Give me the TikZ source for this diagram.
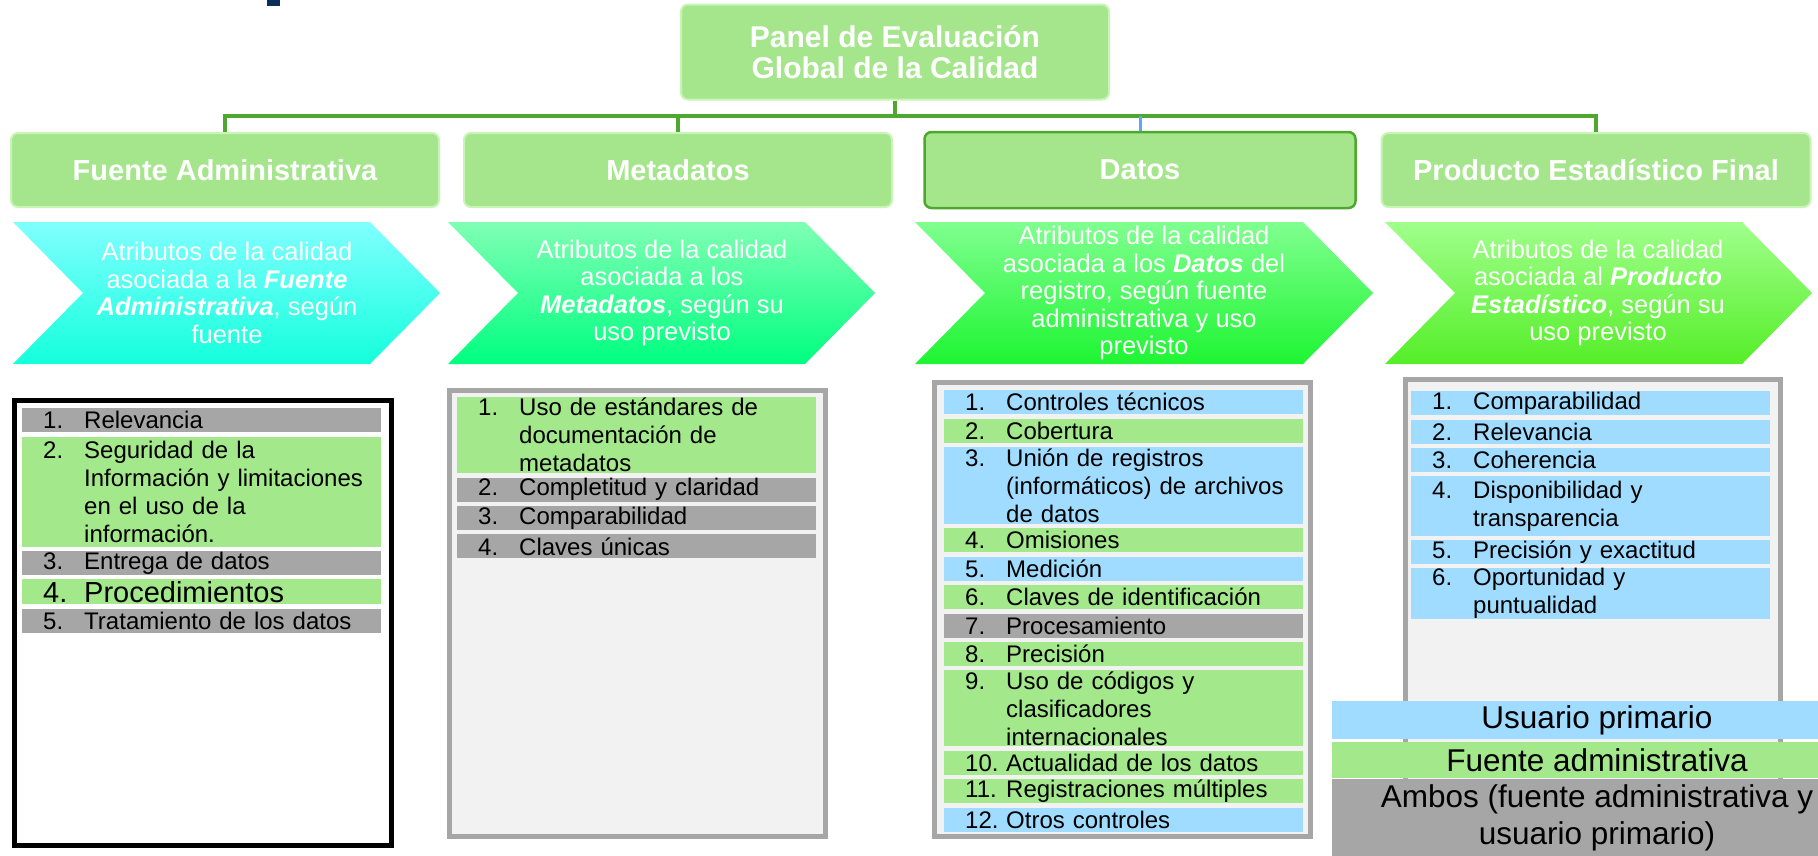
\documentclass[tikz,border=0pt]{standalone}
\usepackage{fontspec}
\setmainfont{Liberation Sans}
\usetikzlibrary{positioning}

\definecolor{hdrgreen}{HTML}{A5E68C}
\definecolor{hdredge}{HTML}{C8F4B6}
\definecolor{busgreen}{HTML}{4EA72E}
\definecolor{busblue}{HTML}{5BA8F0}
\definecolor{itblue}{HTML}{A0DCFF}
\definecolor{itgreen}{HTML}{A3E88B}
\definecolor{itgray}{HTML}{A6A6A6}
\definecolor{boxgray}{HTML}{F2F2F2}
\definecolor{navy}{HTML}{0B2D5B}
\definecolor{fatop}{HTML}{80FFFF}
\definecolor{fabot}{HTML}{14FFDC}
\definecolor{metop}{HTML}{80FFB4}
\definecolor{mebot}{HTML}{00FF80}
\definecolor{datop}{HTML}{80FF90}
\definecolor{dabot}{HTML}{1EF532}
\definecolor{prtop}{HTML}{A0FF8C}
\definecolor{prbot}{HTML}{55EE28}

\newcommand{\itm}[2]{\hspace*{21pt}\makebox[41pt][l]{#1}\parbox[t]{292pt}{\raggedright #2}}

\begin{document}
\begin{tikzpicture}[x=1pt,y=-1pt,
    hdr/.style={rectangle, rounded corners=7pt, fill=hdrgreen, draw=hdredge, line width=2pt, text=white,
        font=\fontsize{29}{31}\selectfont\bfseries, minimum width=428pt, minimum height=74pt, align=center},
    chevtxt/.style={text=white, font=\fontsize{25.5}{27.5}\selectfont, align=center, inner sep=0pt},
    listbox/.style={rectangle, draw=itgray, line width=5pt, fill=boxgray},
    attr/.style={rectangle, inner sep=0pt, text width=359pt, minimum height=24pt, align=left,
        font=\fontsize{24}{28}\selectfont},
    leg/.style={rectangle, inner sep=0pt, minimum width=530pt, align=center, font=\fontsize{31.5}{37}\selectfont},
    bus/.style={draw=busgreen, line width=4.5pt}]
    \useasboundingbox (0,0) rectangle (1818,855);
    \clip (0,0) rectangle (1818,855);
    \fill[navy] (267,0) rectangle (280,6);

    \node[hdr, minimum height=95pt, font=\fontsize{30}{31}\selectfont\bfseries] (top) at (895,52) {Panel de Evaluación\\Global de la Calidad};
    \node[hdr] (fa) at (225,170) {Fuente Administrativa};
    \node[hdr] (meta) at (678,170) {Metadatos};
    \node[hdr, draw=busgreen, line width=2.5pt, minimum width=431pt, minimum height=76pt] (datos) at (1140,170) {Datos};
    \node[hdr, minimum width=429pt] (pef) at (1596,170) {Producto Estadístico Final};

    \coordinate (busy) at (0,116);
    \draw[bus] (top.south) -- (top.south |- busy);
    \draw[bus] (fa.north) -- (fa.north |- busy) -- (pef.north |- busy) -- (pef.north);
    \draw[bus] (meta.north) -- (meta.north |- busy);
    \draw[bus, draw=busblue, line width=3pt] (datos.north) -- (datos.north |- busy);

    \foreach \x/\w/\ct/\cb in {13/357/fatop/fabot, 448/357/metop/mebot, 915/388/datop/dabot, 1385/357/prtop/prbot}
        \shade[top color=\ct, bottom color=\cb] (\x,222) -- ++(\w,0) -- ++(70,71) -- ++(-70,71) -- ++(-\w,0) -- ++(70,-71) -- cycle;

    \node[chevtxt] (cfa) at (227,293) {Atributos de la calidad\\asociada a la \textbf{\textit{Fuente}}\\\textbf{\textit{Administrativa}}, según\\fuente};
    \node[chevtxt] (cmeta) at (662,293) {Atributos de la calidad\\asociada a los\\\textbf{\textit{Metadatos}}, según su\\uso previsto};
    \node[chevtxt] (cdatos) at (1144,293) {Atributos de la calidad\\asociada a los \textbf{\textit{Datos}} del\\registro, según fuente\\administrativa y uso\\previsto};
    \node[chevtxt] (cpef) at (1598,293) {Atributos de la calidad\\asociada al \textbf{\textit{Producto}}\\\textbf{\textit{Estadístico}}, según su\\uso previsto};

    \node[listbox, draw=black, fill=white, minimum width=377pt, minimum height=445pt] (lfa) at (203,623) {};
    \node[listbox, minimum width=376pt, minimum height=446pt] (lmeta) at (637.5,613.5) {};
    \node[listbox, minimum width=376pt, minimum height=454pt] (ldatos) at (1122.5,609.5) {};
    \node[listbox, minimum width=375pt, minimum height=470pt] (lpef) at (1593,614) {};

    \node[attr, fill=itgray, anchor=north west] (fa1) at (22,408) {\itm{1.}{Relevancia}};
    \node[attr, fill=itgreen, minimum height=110pt, below=4pt of fa1] (fa2) {\itm{2.}{Seguridad de la\\Información y limitaciones\\en el uso de la\\información.}};
    \node[attr, fill=itgray, below=4pt of fa2] (fa3) {\itm{3.}{Entrega de datos}};
    \node[attr, fill=itgreen, minimum height=25pt, font=\fontsize{29}{31}\selectfont, below=4pt of fa3] (fa4) {\itm{4.}{Procedimientos}};
    \node[attr, fill=itgray, below=4pt of fa4] (fa5) {\itm{5.}{Tratamiento de los datos}};

    \node[attr, fill=itgreen, minimum height=76pt, anchor=north west] (m1) at (457,397) {\itm{1.}{Uso de estándares de\\documentación de\\metadatos}};
    \node[attr, fill=itgray, below=4pt of m1] (m2) {\itm{2.}{Completitud y claridad}};
    \node[attr, fill=itgray, below=4pt of m2] (m3) {\itm{3.}{Comparabilidad}};
    \node[attr, fill=itgray, below=4pt of m3] (m4) {\itm{4.}{Claves únicas}};

    \node[attr, fill=itblue, anchor=north west] (d1) at (944,390) {\itm{1.}{Controles técnicos}};
    \node[attr, fill=itgreen, below=4pt of d1] (d2) {\itm{2.}{Cobertura}};
    \node[attr, fill=itblue, minimum height=77pt, below=4pt of d2] (d3) {\itm{3.}{Unión de registros\\(informáticos) de archivos\\de datos}};
    \node[attr, fill=itgreen, below=4pt of d3] (d4) {\itm{4.}{Omisiones}};
    \node[attr, fill=itblue, below=4pt of d4] (d5) {\itm{5.}{Medición}};
    \node[attr, fill=itgreen, below=4pt of d5] (d6) {\itm{6.}{Claves de identificación}};
    \node[attr, fill=itgray, below=4pt of d6] (d7) {\itm{7.}{Procesamiento}};
    \node[attr, fill=itgreen, below=4pt of d7] (d8) {\itm{8.}{Precisión}};
    \node[attr, fill=itgreen, minimum height=76pt, below=4pt of d8] (d9) {\itm{9.}{Uso de códigos y\\clasificadores\\internacionales}};
    \node[attr, fill=itgreen, below=4pt of d9] (d10) {\itm{10.}{Actualidad de los datos}};
    \node[attr, fill=itgreen, below=4pt of d10] (d11) {\itm{11.}{Registraciones múltiples}};
    \node[attr, fill=itblue, below=4pt of d11] (d12) {\itm{12.}{Otros controles}};

    \node[attr, fill=itblue, anchor=north west] (p1) at (1411,391) {\itm{1.}{Comparabilidad}};
    \node[attr, fill=itblue, below=4pt of p1] (p2) {\itm{2.}{Relevancia}};
    \node[attr, fill=itblue, below=4pt of p2] (p3) {\itm{3.}{Coherencia}};
    \node[attr, fill=itblue, minimum height=60pt, below=4pt of p3] (p4) {\itm{4.}{Disponibilidad y\\transparencia}};
    \node[attr, fill=itblue, below=3pt of p4] (p5) {\itm{5.}{Precisión y exactitud}};
    \node[attr, fill=itblue, minimum height=49pt, below=4pt of p5] (p6) {\itm{6.}{Oportunidad y\\puntualidad}};

    \node[leg, fill=itblue, minimum height=38pt] (lg1) at (1597,720) {Usuario primario};
    \node[leg, fill=itgreen, minimum height=36pt, below=3pt of lg1] (lg2) {Fuente administrativa};
    \node[leg, fill=itgray, minimum height=78pt, below=0pt of lg2] (lg3) {Ambos (fuente administrativa y\\usuario primario)};
\end{tikzpicture}
\end{document}
